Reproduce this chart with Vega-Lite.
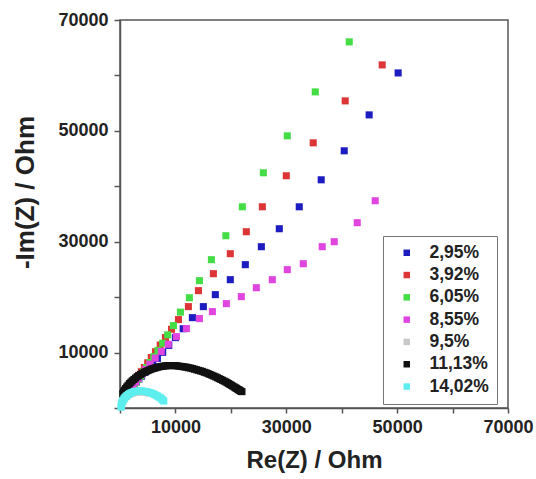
{
  "$schema": "https://vega.github.io/schema/vega-lite/v6.json",
  "width": 388,
  "height": 388,
  "autosize": "none",
  "padding": {"left": 120, "top": 20, "right": 28, "bottom": 71},
  "background": "white",
  "config": {
    "font": "Liberation Sans",
    "view": {"stroke": "#555555", "strokeWidth": 1.5},
    "axis": {"grid": false, "domainColor": "#555555", "domainWidth": 1.5, "tickColor": "#555555", "tickWidth": 1.5, "labelFont": "Liberation Sans", "labelFontWeight": "bold", "labelColor": "#222222", "titleFont": "Liberation Sans", "titleFontWeight": "bold", "titleColor": "#222222"}
  },
  "data": {"values": [
    {"s":"2,95%","x":50180,"y":60450},{"s":"2,95%","x":44950,"y":52880},{"s":"2,95%","x":40450,"y":46400},{"s":"2,95%","x":36300,"y":41170},{"s":"2,95%","x":32340,"y":36300},{"s":"2,95%","x":28740,"y":32340},{"s":"2,95%","x":25500,"y":29100},{"s":"2,95%","x":22610,"y":25860},{"s":"2,95%","x":19900,"y":23150},{"s":"2,95%","x":17200,"y":20450},{"s":"2,95%","x":15040,"y":18290},{"s":"2,95%","x":13060,"y":16300},{"s":"2,95%","x":11400,"y":14300},{"s":"2,95%","x":10000,"y":12700},{"s":"2,95%","x":8800,"y":11300},{"s":"2,95%","x":7700,"y":10050},{"s":"2,95%","x":6750,"y":8950},{"s":"2,95%","x":5900,"y":8000},{"s":"2,95%","x":5150,"y":7150},{"s":"2,95%","x":4500,"y":6400},{"s":"2,95%","x":3900,"y":5750},{"s":"2,95%","x":3400,"y":5200},{"s":"2,95%","x":2950,"y":4700},{"s":"2,95%","x":2550,"y":4250},{"s":"2,95%","x":2200,"y":3850},{"s":"2,95%","x":1850,"y":3500},{"s":"2,95%","x":1550,"y":3200},{"s":"2,95%","x":1300,"y":2950},{"s":"2,95%","x":1050,"y":2700},{"s":"2,95%","x":800,"y":2500},{"s":"2,95%","x":600,"y":2300},
    {"s":"3,92%","x":47300,"y":61900},{"s":"3,92%","x":40630,"y":55410},{"s":"3,92%","x":34860,"y":47840},{"s":"3,92%","x":30000,"y":41900},{"s":"3,92%","x":25680,"y":36300},{"s":"3,92%","x":22790,"y":31800},{"s":"3,92%","x":19900,"y":27840},{"s":"3,92%","x":16850,"y":24230},{"s":"3,92%","x":14150,"y":21170},{"s":"3,92%","x":12340,"y":18290},{"s":"3,92%","x":10540,"y":15950},{"s":"3,92%","x":9300,"y":14200},{"s":"3,92%","x":8200,"y":12700},{"s":"3,92%","x":7250,"y":11350},{"s":"3,92%","x":6400,"y":10150},{"s":"3,92%","x":5650,"y":9100},{"s":"3,92%","x":5000,"y":8150},{"s":"3,92%","x":4400,"y":7300},{"s":"3,92%","x":3850,"y":6550},{"s":"3,92%","x":3400,"y":5900},{"s":"3,92%","x":3000,"y":5300},{"s":"3,92%","x":2600,"y":4800},{"s":"3,92%","x":2250,"y":4350},{"s":"3,92%","x":1950,"y":3950},{"s":"3,92%","x":1650,"y":3600},{"s":"3,92%","x":1400,"y":3300},{"s":"3,92%","x":1150,"y":3000},{"s":"3,92%","x":950,"y":2750},{"s":"3,92%","x":750,"y":2550},{"s":"3,92%","x":550,"y":2350},
    {"s":"6,05%","x":41360,"y":66050},{"s":"6,05%","x":35230,"y":57030},{"s":"6,05%","x":30180,"y":49100},{"s":"6,05%","x":25860,"y":42440},{"s":"6,05%","x":22070,"y":36300},{"s":"6,05%","x":19100,"y":31080},{"s":"6,05%","x":16490,"y":26760},{"s":"6,05%","x":14330,"y":22970},{"s":"6,05%","x":12520,"y":19890},{"s":"6,05%","x":10900,"y":17300},{"s":"6,05%","x":9640,"y":14870},{"s":"6,05%","x":8600,"y":13200},{"s":"6,05%","x":7700,"y":11700},{"s":"6,05%","x":6850,"y":10400},{"s":"6,05%","x":6100,"y":9250},{"s":"6,05%","x":5400,"y":8200},{"s":"6,05%","x":4800,"y":7300},{"s":"6,05%","x":4250,"y":6500},{"s":"6,05%","x":3750,"y":5800},{"s":"6,05%","x":3300,"y":5200},{"s":"6,05%","x":2900,"y":4650},{"s":"6,05%","x":2550,"y":4200},{"s":"6,05%","x":2200,"y":3800},{"s":"6,05%","x":1900,"y":3450},{"s":"6,05%","x":1600,"y":3150},{"s":"6,05%","x":1350,"y":2900},{"s":"6,05%","x":1100,"y":2700},{"s":"6,05%","x":900,"y":2500},{"s":"6,05%","x":700,"y":2350},{"s":"6,05%","x":500,"y":2200},
    {"s":"8,55%","x":46040,"y":37390},{"s":"8,55%","x":42800,"y":33430},{"s":"8,55%","x":38650,"y":30000},{"s":"8,55%","x":36480,"y":29100},{"s":"8,55%","x":33070,"y":26030},{"s":"8,55%","x":30180,"y":24960},{"s":"8,55%","x":27480,"y":23150},{"s":"8,55%","x":24600,"y":21700},{"s":"8,55%","x":21890,"y":20090},{"s":"8,55%","x":19190,"y":18830},{"s":"8,55%","x":16670,"y":17390},{"s":"8,55%","x":14330,"y":16130},{"s":"8,55%","x":11980,"y":14330},{"s":"8,55%","x":10180,"y":12880},{"s":"8,55%","x":8700,"y":11500},{"s":"8,55%","x":7450,"y":10200},{"s":"8,55%","x":6350,"y":9000},{"s":"8,55%","x":5400,"y":7900},{"s":"8,55%","x":4600,"y":6950},{"s":"8,55%","x":3900,"y":6100},{"s":"8,55%","x":3300,"y":5350},{"s":"8,55%","x":2800,"y":4700},{"s":"8,55%","x":2350,"y":4150},{"s":"8,55%","x":1950,"y":3650},{"s":"8,55%","x":1600,"y":3250},{"s":"8,55%","x":1300,"y":2900},{"s":"8,55%","x":1050,"y":2600},{"s":"8,55%","x":800,"y":2350},{"s":"8,55%","x":600,"y":2150},
    {"s":"9,5%","x":300,"y":700},{"s":"9,5%","x":500,"y":1200},{"s":"9,5%","x":800,"y":1700},{"s":"9,5%","x":1200,"y":2100},{"s":"9,5%","x":1700,"y":2450},{"s":"9,5%","x":2300,"y":2700},{"s":"9,5%","x":3000,"y":2850},{"s":"9,5%","x":3700,"y":2900},{"s":"9,5%","x":4400,"y":2850},{"s":"9,5%","x":5100,"y":2700},
    {"s":"11,13%","x":500,"y":2600},{"s":"11,13%","x":650,"y":2900},{"s":"11,13%","x":800,"y":3200},{"s":"11,13%","x":1000,"y":3500},{"s":"11,13%","x":1200,"y":3800},{"s":"11,13%","x":1450,"y":4100},{"s":"11,13%","x":1700,"y":4400},{"s":"11,13%","x":1950,"y":4650},{"s":"11,13%","x":2200,"y":4900},{"s":"11,13%","x":2500,"y":5150},{"s":"11,13%","x":2800,"y":5400},{"s":"11,13%","x":3100,"y":5650},{"s":"11,13%","x":3400,"y":5850},{"s":"11,13%","x":3700,"y":6050},{"s":"11,13%","x":4000,"y":6250},{"s":"11,13%","x":4350,"y":6450},{"s":"11,13%","x":4700,"y":6600},{"s":"11,13%","x":5050,"y":6750},{"s":"11,13%","x":5400,"y":6900},{"s":"11,13%","x":5750,"y":7050},{"s":"11,13%","x":6100,"y":7150},{"s":"11,13%","x":6450,"y":7250},{"s":"11,13%","x":6800,"y":7350},{"s":"11,13%","x":7150,"y":7450},{"s":"11,13%","x":7500,"y":7500},{"s":"11,13%","x":7850,"y":7550},{"s":"11,13%","x":8200,"y":7600},{"s":"11,13%","x":8550,"y":7650},{"s":"11,13%","x":8900,"y":7650},{"s":"11,13%","x":9250,"y":7650},{"s":"11,13%","x":9600,"y":7650},{"s":"11,13%","x":9950,"y":7650},{"s":"11,13%","x":10300,"y":7600},{"s":"11,13%","x":10650,"y":7550},{"s":"11,13%","x":11000,"y":7500},{"s":"11,13%","x":11350,"y":7450},{"s":"11,13%","x":11700,"y":7400},{"s":"11,13%","x":12050,"y":7350},{"s":"11,13%","x":12400,"y":7250},{"s":"11,13%","x":12750,"y":7200},{"s":"11,13%","x":13100,"y":7100},{"s":"11,13%","x":13450,"y":7000},{"s":"11,13%","x":13800,"y":6900},{"s":"11,13%","x":14150,"y":6800},{"s":"11,13%","x":14500,"y":6700},{"s":"11,13%","x":14850,"y":6600},{"s":"11,13%","x":15200,"y":6450},{"s":"11,13%","x":15550,"y":6350},{"s":"11,13%","x":15900,"y":6200},{"s":"11,13%","x":16250,"y":6050},{"s":"11,13%","x":16600,"y":5900},{"s":"11,13%","x":16950,"y":5750},{"s":"11,13%","x":17300,"y":5600},{"s":"11,13%","x":17600,"y":5450},{"s":"11,13%","x":17900,"y":5300},{"s":"11,13%","x":18200,"y":5150},{"s":"11,13%","x":18500,"y":5000},{"s":"11,13%","x":18800,"y":4850},{"s":"11,13%","x":19100,"y":4700},{"s":"11,13%","x":19350,"y":4550},{"s":"11,13%","x":19600,"y":4400},{"s":"11,13%","x":19850,"y":4250},{"s":"11,13%","x":20100,"y":4100},{"s":"11,13%","x":20350,"y":3950},{"s":"11,13%","x":20600,"y":3800},{"s":"11,13%","x":20800,"y":3650},{"s":"11,13%","x":21000,"y":3550},{"s":"11,13%","x":21200,"y":3400},{"s":"11,13%","x":21400,"y":3300},{"s":"11,13%","x":21550,"y":3200},{"s":"11,13%","x":21700,"y":3100},{"s":"11,13%","x":21850,"y":3000},{"s":"11,13%","x":22000,"y":2950},
    {"s":"14,02%","x":200,"y":150},{"s":"14,02%","x":220,"y":350},{"s":"14,02%","x":250,"y":500},{"s":"14,02%","x":300,"y":750},{"s":"14,02%","x":350,"y":950},{"s":"14,02%","x":450,"y":1200},{"s":"14,02%","x":550,"y":1400},{"s":"14,02%","x":700,"y":1650},{"s":"14,02%","x":850,"y":1850},{"s":"14,02%","x":1050,"y":2050},{"s":"14,02%","x":1250,"y":2250},{"s":"14,02%","x":1500,"y":2450},{"s":"14,02%","x":1750,"y":2600},{"s":"14,02%","x":2000,"y":2750},{"s":"14,02%","x":2300,"y":2850},{"s":"14,02%","x":2600,"y":2950},{"s":"14,02%","x":2900,"y":3000},{"s":"14,02%","x":3200,"y":3050},{"s":"14,02%","x":3500,"y":3050},{"s":"14,02%","x":3800,"y":3050},{"s":"14,02%","x":4100,"y":3050},{"s":"14,02%","x":4400,"y":3000},{"s":"14,02%","x":4700,"y":2950},{"s":"14,02%","x":5000,"y":2900},{"s":"14,02%","x":5300,"y":2800},{"s":"14,02%","x":5600,"y":2700},{"s":"14,02%","x":5900,"y":2600},{"s":"14,02%","x":6200,"y":2450},{"s":"14,02%","x":6500,"y":2300},{"s":"14,02%","x":6750,"y":2150},{"s":"14,02%","x":7000,"y":2000},{"s":"14,02%","x":7250,"y":1850},{"s":"14,02%","x":7500,"y":1650},{"s":"14,02%","x":7700,"y":1450},{"s":"14,02%","x":7900,"y":1250}
  ]},
  "mark": {"type": "point", "shape": "square", "filled": true, "size": 50, "opacity": 1},
  "encoding": {
    "x": {"field": "x", "type": "quantitative", "scale": {"domain": [0, 70000], "nice": false, "zero": false},
      "axis": {"title": "Re(Z) / Ohm", "values": [0, 10000, 20000, 30000, 40000, 50000, 60000, 70000], "format": "d", "labelExpr": "datum.value % 20000 == 10000 ? datum.label : ''", "labelFontSize": 18, "tickSize": 5, "labelPadding": 5, "titleFontSize": 24, "titlePadding": 12, "labelFlush": false, "labelOverlap": false}},
    "y": {"field": "y", "type": "quantitative", "scale": {"domain": [0, 70000], "nice": false, "zero": false},
      "axis": {"title": "-Im(Z) / Ohm", "values": [0, 10000, 20000, 30000, 40000, 50000, 60000, 70000], "format": "d", "labelExpr": "datum.value % 20000 == 10000 ? datum.label : ''", "labelFontSize": 18, "tickSize": 6, "labelPadding": 6, "titleFontSize": 26, "titleX": -95, "titleY": 172, "titleAngle": -90, "titleAlign": "center", "titleBaseline": "middle", "labelFlush": false, "labelOverlap": false}},
    "color": {"field": "s", "type": "nominal",
      "scale": {"domain": ["2,95%", "3,92%", "6,05%", "8,55%", "9,5%", "11,13%", "14,02%"], "range": ["#1c1cc0", "#dd3535", "#45dd45", "#e045e0", "#c8c8c8", "#111111", "#5eeeee"]},
      "legend": {"title": null, "orient": "none", "legendX": 263, "legendY": 216, "strokeColor": "#777777", "padding": 8, "symbolType": "square", "symbolSize": 42, "labelFontSize": 17.5, "labelFontWeight": "bold", "labelColor": "#222222", "labelOffset": 14, "rowPadding": 3.3, "symbolOffset": 7, "labelLimit": 200}}
  }
}
